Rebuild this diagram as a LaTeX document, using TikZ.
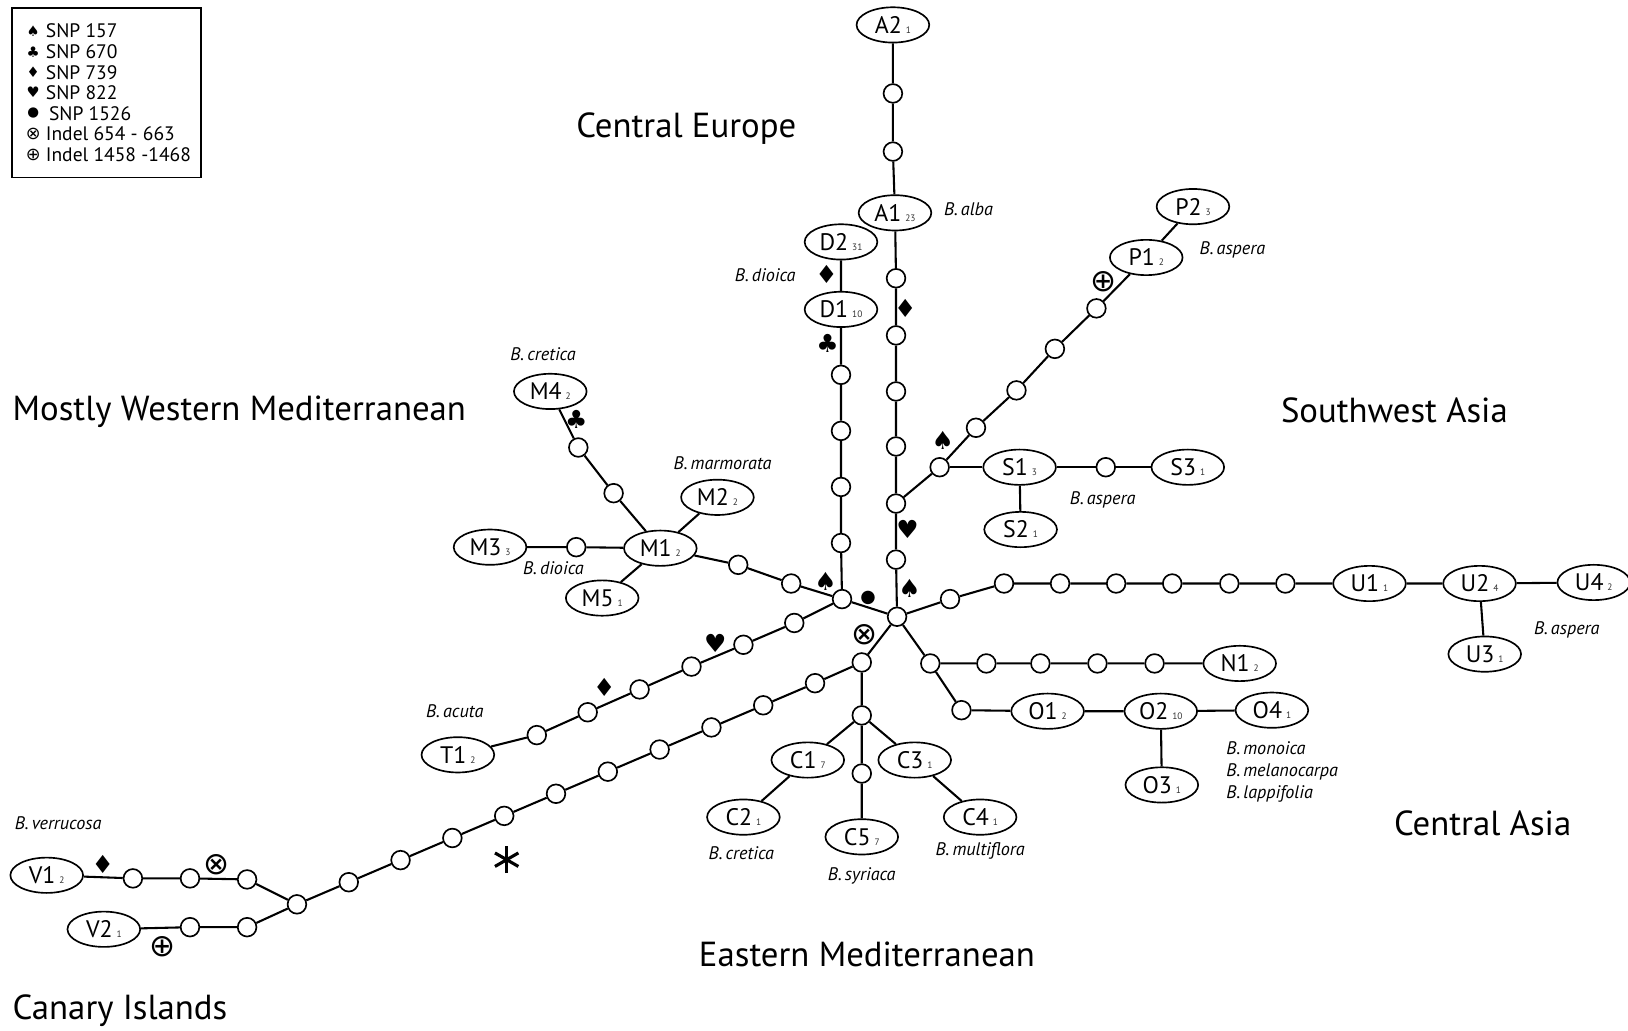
\documentclass[tikz,border=0pt]{standalone}
\usepackage{fontspec}
\setmainfont{PT Sans}
\newfontfamily\symfont{DejaVu Sans}
\usetikzlibrary{shapes.geometric}
\newcommand{\hp}[2]{#1\,{\fontsize{9}{9}\selectfont\color{black!80}#2}}

\begin{document}
\begin{tikzpicture}[x=1pt, y=-1pt,
	hap/.style={draw, ellipse, line width=1.6pt, fill=white, minimum width=70pt, minimum height=34pt, inner sep=0pt, font=\fontsize{23}{24}\selectfont},
	dot/.style={draw, circle, line width=1.6pt, fill=white, minimum size=18pt, inner sep=0pt},
	link/.style={line width=2pt},
	sp/.style={font=\fontsize{17.5}{20}\selectfont\itshape, inner sep=0pt},
	region/.style={font=\fontsize{33.5}{36}\selectfont, inner sep=0pt},
	mut/.style={font=\fontsize{24}{26}\selectfont\symfont, inner sep=0pt},
	indel/.style={font=\fontsize{30}{32}\selectfont\symfont, inner sep=0pt},
	legtext/.style={font=\fontsize{18.8}{20}\selectfont, anchor=west, inner sep=0pt}]

	\useasboundingbox (0,0) rectangle (1568,993);

	% legend
	\node[draw, line width=1.5pt, minimum width=182pt, minimum height=163pt, anchor=north west, inner sep=0pt] (legend) at (11,7) {};
	\foreach \s/\f/\t/\y/\x [count=\i] in {♠/14/SNP 157/30/44, ♣/14/SNP 670/50/44, ♦/14/SNP 739/70/44, ♥/14/SNP 822/89/44, ●/13/SNP 1526/109/47, ⊗/17/Indel 654 - 663/129/44, ⊕/17/Indel 1458 -1468/149/44}
		{
		\node[inner sep=0pt, font=\fontsize{\f}{\f}\selectfont\symfont] (ls\i) at (32,\y) {\s};
		\node[legtext] (lt\i) at (\x,\y) {\t};
		}

	% regions
	\node[region] (ce) at (661,124) {Central Europe};
	\node[region, anchor=west] (wm) at (12,397) {Mostly Western Mediterranean};
	\node[region] (swa) at (1343,395) {Southwest Asia};
	\node[region] (ca) at (1428,793) {Central Asia};
	\node[region] (em) at (835,919) {Eastern Mediterranean};
	\node[region, anchor=west] (ci) at (12,973) {Canary Islands};

	% haplotypes
	\foreach \n/\x/\y/\k in {A2/860/24/1, A1/862/205/23, D2/810/233/31, D1/810/298/10, P2/1149/199/3, P1/1104/248/2, S1/982/450/3, S3/1144/450/1, S2/983/510/1, M4/530/377/2, M2/691/479/2, M1/636/528/2, M3/472/527/3, M5/580/576/1, T1/441/727/2, U1/1319/562/1, U2/1425/562/4, U4/1535/561/2, U3/1430/630/1, N1/1194/639/2, O1/1009/685/2, O2/1118/685/10, O4/1225/684/1, O3/1119/756/1, C1/778/732/7, C3/881/732/1, C2/716/787/1, C5/830/806/7, C4/944/787/1, V1/45/843/2, V2/100/895/1}
		\node[hap] (\n) at (\x,\y) {\hp{\n}{\k}};

	% missing haplotypes
	\foreach \n/\x/\y in {a1/860/90, a2/860/146, a3/863/268, a4/863/323, a5/863/377, a6/863/430, J/863/485, a7/863/539, H2/864/594,
		d1/810/361, d2/810/415, d3/810/469, d4/810/523, H1/811/577,
		s0/905/450, p1/940/412, p2/979/376, p3/1016/336, p4/1056/297, s1/1065/450,
		m1/762/562, m2/711/544, m3/555/527, m4/591/475, m5/557/431,
		t1/765/600, t2/716/621, t3/666/642, t4/616/664, t5/566/686, t6/517/708,
		r1/915/577, r2/967/562, r3/1021/562, r4/1075/562, r5/1129/562, r6/1184/562, r7/1238/562,
		n1/896/639, n2/950/639, n3/1002/639, n4/1057/639, n5/1112/639, o1/926/684,
		e1/830/638, c0/830/689, c5/830/745,
		v1/238/847, v2/183/846, v3/128/846, v4/238/893, v5/183/893}
		\node[dot] (\n) at (\x,\y) {};
	\foreach \i in {1,...,11}
		\node[dot] (l\i) at ({785-49.9*(\i-1)}, {658+21.3*(\i-1)}) {};

	% connections
	\draw[link] (A2) -- (a1) -- (a2) -- (A1) -- (a3) -- (a4) -- (a5) -- (a6) -- (J) -- (a7) -- (H2);
	\draw[link] (D2) -- (D1) -- (d1) -- (d2) -- (d3) -- (d4) -- (H1) -- (H2);
	\draw[link] (J) -- (s0) -- (p1) -- (p2) -- (p3) -- (p4) -- (P1) -- (P2);
	\draw[link] (s0) -- (S1) -- (s1) -- (S3);
	\draw[link] (S1) -- (S2);
	\draw[link] (H1) -- (m1) -- (m2) -- (M1) -- (M2);
	\draw[link] (M3) -- (m3) -- (M1) -- (M5);
	\draw[link] (M1) -- (m4) -- (m5) -- (M4);
	\draw[link] (H1) -- (t1) -- (t2) -- (t3) -- (t4) -- (t5) -- (t6) -- (T1);
	\draw[link] (H2) -- (r1) -- (r2) -- (r3) -- (r4) -- (r5) -- (r6) -- (r7) -- (U1) -- (U2) -- (U4);
	\draw[link] (U2) -- (U3);
	\draw[link] (H2) -- (n1) -- (n2) -- (n3) -- (n4) -- (n5) -- (N1);
	\draw[link] (n1) -- (o1) -- (O1) -- (O2) -- (O4);
	\draw[link] (O2) -- (O3);
	\draw[link] (H2) -- (e1) -- (c0) -- (c5) -- (C5);
	\draw[link] (c0) -- (C1) -- (C2);
	\draw[link] (c0) -- (C3) -- (C4);
	\draw[link] (e1) -- (l1);
	\foreach \i [evaluate=\i as \j using int(\i+1)] in {1,...,10}
		\draw[link] (l\i) -- (l\j);
	\draw[link] (l11) -- (v1) -- (v2) -- (v3) -- (V1);
	\draw[link] (l11) -- (v4) -- (v5) -- (V2);

	% mutations
	\node[mut] (k1) at (796,264) {♦};
	\node[mut] (k2) at (797,331) {♣};
	\node[mut] (k3) at (872,297) {♦};
	\node[mut] (k4) at (874,510) {♥};
	\node[mut] (k5) at (876,567) {♠};
	\node[mut] (k6) at (795,560) {♠};
	\node[mut, font=\fontsize{17}{18}\selectfont\symfont] (k7) at (836,576) {●};
	\node[indel] (k8) at (833,611) {⊗};
	\node[mut] (k9) at (908,424) {♠};
	\node[indel] (k10) at (1063,271) {⊕};
	\node[mut] (k11) at (555,404) {♣};
	\node[mut] (k12) at (689,620) {♥};
	\node[mut] (k13) at (582,662) {♦};
	\node[mut] (k14) at (99,833) {♦};
	\node[indel] (k15) at (209,833) {⊗};
	\node[indel] (k16) at (157,912) {⊕};
	\node (star) at (488,828) {};
	\foreach \a in {90,30,150}
		\draw[line width=3pt] (star.center) ++(\a:13) -- ++(\a+180:26);

	% species
	\node[sp, anchor=west] (sa) at (909,201) {B.\,alba};
	\node[sp] (sd1) at (737,265) {B.\,dioica};
	\node[sp] (sp1) at (1187,241) {B.\,aspera};
	\node[sp] (sc1) at (523,341) {B.\,cretica};
	\node[sp] (sm) at (696,446) {B.\,marmorata};
	\node[sp] (sp2) at (1062,481) {B.\,aspera};
	\node[sp] (sd2) at (533,547) {B.\,dioica};
	\node[sp] (sac) at (438,685) {B.\,acuta};
	\node[sp] (sv) at (56,793) {B.\,verrucosa};
	\node[sp] (sp3) at (1509,607) {B.\,aspera};
	\node[sp, anchor=west] (smo) at (1181,721) {B.\,monoica};
	\node[sp, anchor=west] (sme) at (1181,743) {B.\,melanocarpa};
	\node[sp, anchor=west] (sla) at (1181,765) {B.\,lappifolia};
	\node[sp] (sc2) at (714,822) {B.\,cretica};
	\node[sp] (ssy) at (830,844) {B.\,syriaca};
	\node[sp] (smu) at (944,820) {B.\,multiflora};
\end{tikzpicture}
\end{document}
